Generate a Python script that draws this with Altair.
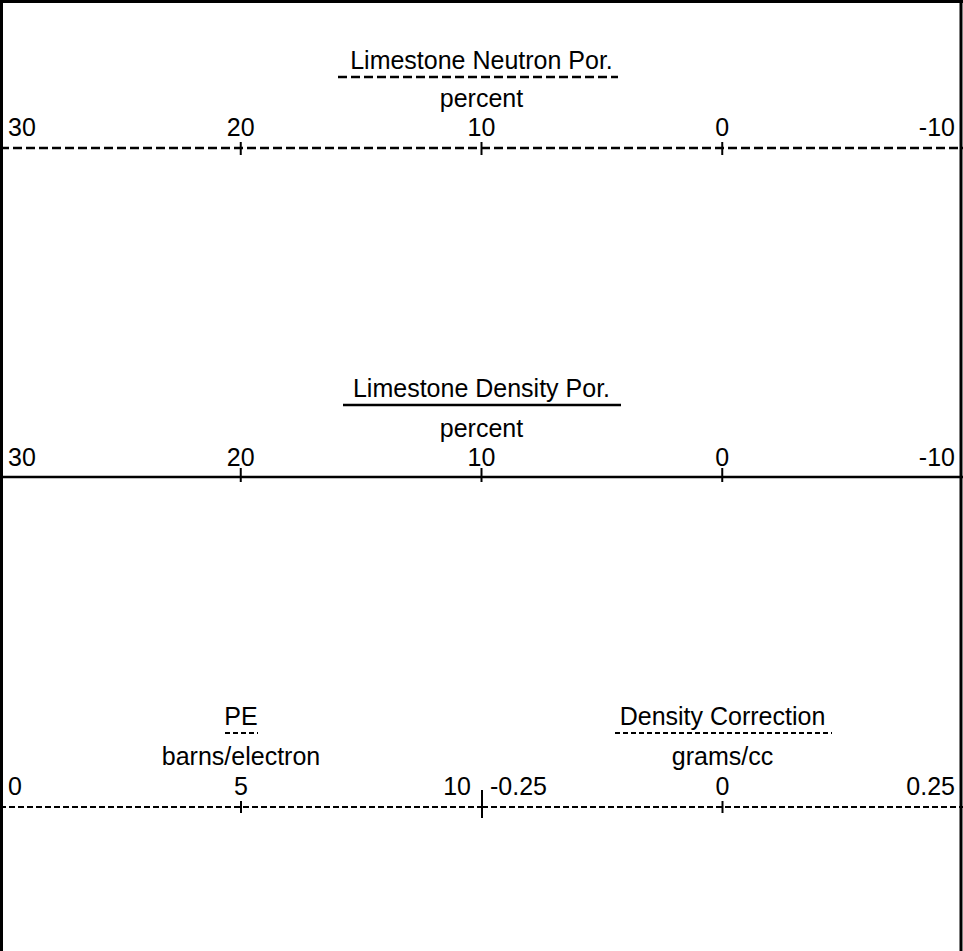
import altair as alt
import pandas as pd

W, H = 963, 951
FONT = "Liberation Sans"
FS = 25

# ---- data ----
neutron_title = "Limestone Neutron Por."
neutron_unit = "percent"
neutron_ticks = [30, 20, 10, 0, -10]
neutron_labels = ["30", "20", "10", "0", "-10"]

density_title = "Limestone Density Por."
density_unit = "percent"
density_ticks = [30, 20, 10, 0, -10]
density_labels = ["30", "20", "10", "0", "-10"]

pe_title = "PE"
pe_unit = "barns/electron"
pe_ticks = [0, 5, 10]
pe_labels = ["0", "5", "10"]

dc_title = "Density Correction"
dc_unit = "grams/cc"
dc_ticks = [-0.25, 0, 0.25]
dc_labels = ["-0.25", "0", "0.25"]


def track(title, unit, ticks, labels, x_range, line_y, dash, lw, ul, ul_dash,
          title_y, unit_y, lab_y, tick_span, end_dx=(8, -8)):
    scale = alt.Scale(domain=[ticks[0], ticks[-1]], range=x_range, nice=False, zero=False)
    df = pd.DataFrame({"v": ticks, "lab": labels})
    X = lambda f: alt.X(f, type="quantitative", scale=scale, axis=None)
    layers = []
    # axis line
    line_kw = dict(strokeWidth=lw, color="black")
    if dash:
        line_kw["strokeDash"] = dash
    layers.append(
        alt.Chart(pd.DataFrame({"a": [ticks[0]], "b": [ticks[-1]]}))
        .mark_rule(**line_kw)
        .encode(x=X("a"), x2="b", y=alt.value(line_y))
    )
    # interior ticks
    layers.append(
        alt.Chart(df.iloc[1:-1]).mark_rule(strokeWidth=2, color="black")
        .encode(x=X("v"), y=alt.value(tick_span[0]), y2=alt.value(tick_span[1]))
    )
    txt = dict(font=FONT, fontSize=FS, color="black", baseline="alphabetic")
    # labels
    layers.append(alt.Chart(df.iloc[[0]]).mark_text(align="left", dx=end_dx[0], **txt)
                  .encode(x=X("v"), y=alt.value(lab_y), text="lab:N"))
    layers.append(alt.Chart(df.iloc[1:-1]).mark_text(align="center", **txt)
                  .encode(x=X("v"), y=alt.value(lab_y), text="lab:N"))
    layers.append(alt.Chart(df.iloc[[-1]]).mark_text(align="right", dx=end_dx[1], **txt)
                  .encode(x=X("v"), y=alt.value(lab_y), text="lab:N"))
    # title + unit
    mid = (ticks[0] + ticks[-1]) / 2
    tdf = pd.DataFrame({"v": [mid], "t": [title], "u": [unit]})
    layers.append(alt.Chart(tdf).mark_text(align="center", **txt)
                  .encode(x=X("v"), y=alt.value(title_y), text="t:N"))
    layers.append(alt.Chart(tdf).mark_text(align="center", **txt)
                  .encode(x=X("v"), y=alt.value(unit_y), text="u:N"))
    ul_kw = dict(strokeWidth=ul[3], color="black")
    if ul_dash:
        ul_kw["strokeDash"] = ul_dash
    layers.append(alt.Chart(tdf).mark_rule(**ul_kw)
                  .encode(x=alt.value(ul[0]), x2=alt.value(ul[1]), y=alt.value(ul[2])))
    return layers


layers = []
layers += track(neutron_title, neutron_unit, neutron_ticks, neutron_labels,
                [0, W], 148, [9, 4], 2.5, (338, 618, 77, 2.5), [9, 4],
                69, 107, 136, (142, 155))
layers += track(density_title, density_unit, density_ticks, density_labels,
                [0, W], 477, None, 2.5, (343, 621, 405, 2.5), None,
                397, 437, 466, (468, 482))
layers += track(pe_title, pe_unit, pe_ticks, pe_labels,
                [0, 482], 807, [6, 3], 1.8, (225, 258, 733, 1.8), [5, 3],
                725, 765, 795, (801, 813), end_dx=(8, -11))
layers += track(dc_title, dc_unit, dc_ticks, dc_labels,
                [482, W], 807, [6, 3], 1.8, (615, 832, 733, 1.8), [5, 3],
                725, 765, 795, (801, 813))

# divider tick between PE and density correction tracks
layers.append(
    alt.Chart(pd.DataFrame({"v": [pe_ticks[-1]]})).mark_rule(strokeWidth=2, color="black")
    .encode(x=alt.X("v:Q", scale=alt.Scale(domain=[pe_ticks[0], pe_ticks[-1]], range=[0, 482]), axis=None),
            y=alt.value(790), y2=alt.value(818))
)

# frame (left, top, right)
frame = pd.DataFrame({"k": [0]})
layers.append(alt.Chart(frame).mark_rule(strokeWidth=3, color="black")
              .encode(x=alt.value(1.5), y=alt.value(0), y2=alt.value(H)))
layers.append(alt.Chart(frame).mark_rule(strokeWidth=3, color="black")
              .encode(x=alt.value(W - 2), y=alt.value(0), y2=alt.value(H)))
layers.append(alt.Chart(frame).mark_rule(strokeWidth=3, color="black")
              .encode(x=alt.value(0), x2=alt.value(W), y=alt.value(1.5)))

chart = (
    alt.layer(*layers)
    .resolve_scale(x="independent")
    .properties(width=W, height=H, padding=0, autosize=alt.AutoSizeParams(type="none"),
                background="white")
    .configure_view(stroke=None)
)

chart.save("out.html", embed_options={"renderer": "svg", "actions": False})
